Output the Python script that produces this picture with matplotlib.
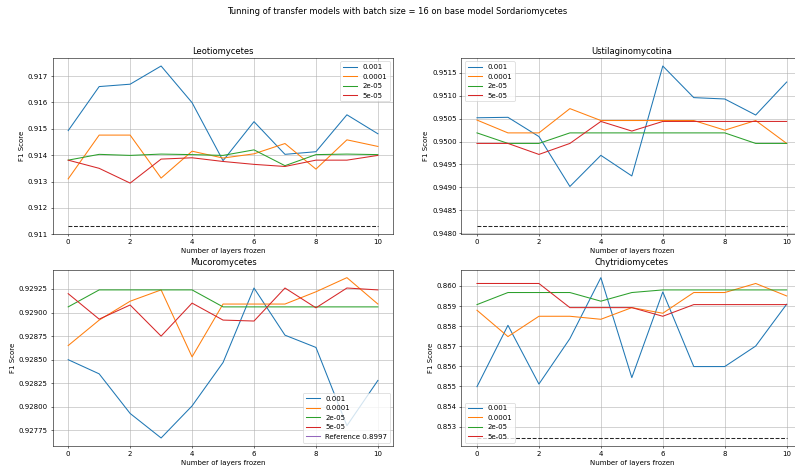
import numpy as np
import matplotlib
matplotlib.use("Agg")
import matplotlib.pyplot as plt

# layers frozen
layers = list(range(11))
rates = ["0.001", "0.0001", "2e-05", "5e-05"]

# Leotiomycetes
leo_001 = [0.91493, 0.91660, 0.91669, 0.91738, 0.91599, 0.91379, 0.91527, 0.91403, 0.91413, 0.91553, 0.91481]
leo_0001 = [0.91310, 0.91476, 0.91476, 0.91313, 0.91415, 0.91389, 0.91405, 0.91444, 0.91347, 0.91458, 0.91433]
leo_2e5 = [0.91381, 0.91403, 0.91399, 0.91404, 0.91402, 0.91399, 0.91420, 0.91360, 0.91402, 0.91404, 0.91402]
leo_5e5 = [0.91381, 0.91350, 0.91294, 0.91385, 0.91390, 0.91376, 0.91365, 0.91357, 0.91381, 0.91381, 0.91399]
leo_ref = 0.91130

# Ustilaginomycotina
ust_001 = [0.95052, 0.95053, 0.95011, 0.94902, 0.94970, 0.94925, 0.95165, 0.95096, 0.95093, 0.95058, 0.95130]
ust_0001 = [0.95047, 0.95019, 0.95019, 0.95072, 0.95046, 0.95046, 0.95046, 0.95046, 0.95025, 0.95046, 0.94996]
ust_2e5 = [0.95019, 0.94996, 0.94996, 0.95019, 0.95019, 0.95019, 0.95019, 0.95019, 0.95019, 0.94996, 0.94996]
ust_5e5 = [0.94996, 0.94996, 0.94972, 0.94996, 0.95044, 0.95023, 0.95044, 0.95044, 0.95044, 0.95044, 0.95044]
ust_ref = 0.94815

# Mucoromycetes
muc_001 = [0.92850, 0.92835, 0.92793, 0.92767, 0.92801, 0.92847, 0.92926, 0.92876, 0.92863, 0.92780, 0.92828]
muc_0001 = [0.92865, 0.92892, 0.92912, 0.92924, 0.92853, 0.92909, 0.92909, 0.92909, 0.92922, 0.92937, 0.92909]
muc_2e5 = [0.92906, 0.92924, 0.92924, 0.92924, 0.92924, 0.92906, 0.92906, 0.92906, 0.92906, 0.92906, 0.92906]
muc_5e5 = [0.92920, 0.92893, 0.92908, 0.92875, 0.92910, 0.92892, 0.92891, 0.92926, 0.92905, 0.92926, 0.92924]
muc_ref = 0.8997

# Chytridiomycetes
chy_001 = [0.85499, 0.85804, 0.85512, 0.85738, 0.86041, 0.85544, 0.85970, 0.85599, 0.85599, 0.85701, 0.85909]
chy_0001 = [0.85879, 0.85748, 0.85849, 0.85849, 0.85834, 0.85892, 0.85864, 0.85967, 0.85967, 0.86012, 0.85950]
chy_2e5 = [0.85907, 0.85967, 0.85967, 0.85967, 0.85924, 0.85967, 0.85980, 0.85980, 0.85980, 0.85980, 0.85980]
chy_5e5 = [0.86012, 0.86012, 0.86012, 0.85892, 0.85892, 0.85892, 0.85849, 0.85907, 0.85907, 0.85907, 0.85907]
chy_ref = 0.85244

fig, axs = plt.subplots(2, 2, figsize=(15.9, 9.46), dpi=50)
fig.subplots_adjust(left=0.0663, right=1.009, top=0.8774, bottom=0.0571, wspace=0.2, hspace=0.2)
fig.suptitle("Tunning of transfer models with batch size = 16 on base model Sordariomycetes", y=0.985)

paneles = [
    (axs[0, 0], "Leotiomycetes", [leo_001, leo_0001, leo_2e5, leo_5e5], leo_ref, False, "upper right"),
    (axs[0, 1], "Ustilaginomycotina", [ust_001, ust_0001, ust_2e5, ust_5e5], ust_ref, False, "upper left"),
    (axs[1, 0], "Mucoromycetes", [muc_001, muc_0001, muc_2e5, muc_5e5], muc_ref, True, "lower right"),
    (axs[1, 1], "Chytridiomycetes", [chy_001, chy_0001, chy_2e5, chy_5e5], chy_ref, False, "lower left"),
]

for ax, nombre, series, ref, ref_label, loc in paneles:
    for serie, lr in zip(series, rates):
        ax.plot(layers, serie, label=lr)
    if ref_label:
        # la referencia queda fuera del rango visible, se fija el rango con los datos
        ax.plot(layers, [ref] * len(layers), color="C4", label=f"Reference {ref}")
        lo = min(min(s) for s in series)
        hi = max(max(s) for s in series)
        m = (hi - lo) * 0.05
        ax.set_ylim(lo - m, hi + m)
    else:
        ax.plot(layers, [ref] * len(layers), "k--", alpha=0.85)
    ax.set_title(nombre)
    ax.set_xlabel("Number of layers frozen")
    ax.set_ylabel("F1 Score")
    ax.grid(True)
    ax.legend(loc=loc)

axs[0, 1].ticklabel_format(useOffset=False)
axs[1, 0].ticklabel_format(useOffset=False)

plt.savefig("out.png", dpi=50)
